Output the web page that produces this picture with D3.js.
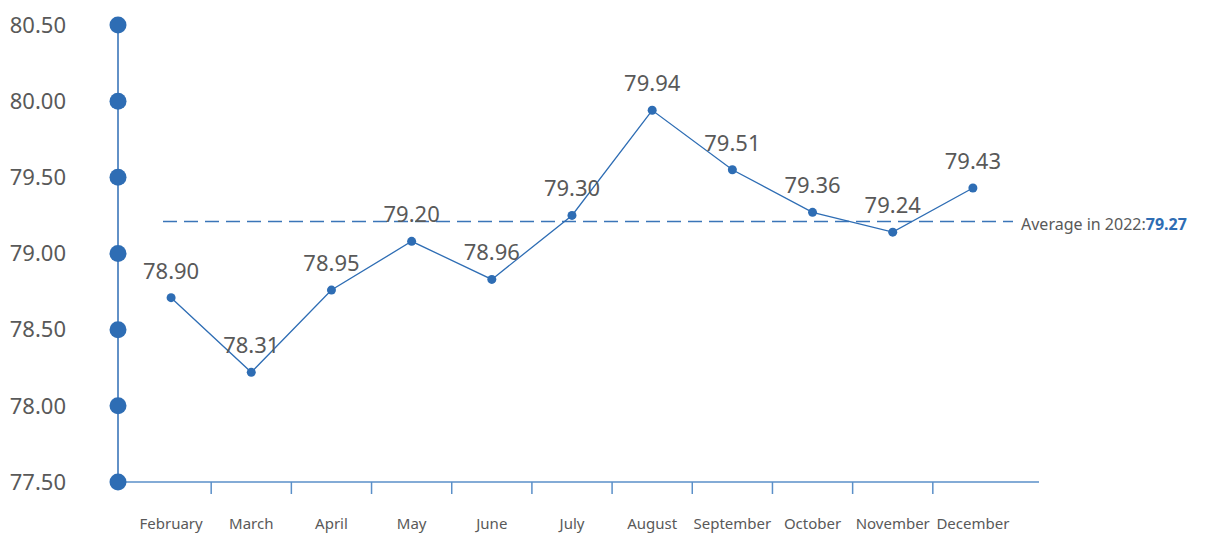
<!DOCTYPE html>
<html>
<head>
<meta charset="utf-8">
<script src="https://cdn.jsdelivr.net/npm/d3@7"></script>
<style>
  body { margin: 0; background: #fff; }
  text { font-family: "Noto Sans", sans-serif; }
</style>
</head>
<body>
<div id="chart"></div>
<script>
// months shown on the x axis
var months = ["February", "March", "April", "May", "June", "July",
              "August", "September", "October", "November", "December"];
var plotted = [78.71, 78.22, 78.76, 79.08, 78.83, 79.25, 79.94, 79.55, 79.27, 79.14, 79.43];
// the numbers printed above each point
var shown = ["78.90", "78.31", "78.95", "79.20", "78.96", "79.30",
             "79.94", "79.51", "79.36", "79.24", "79.43"];
var yTicks = [77.5, 78, 78.5, 79, 79.5, 80, 80.5];
var avgPlotted = 79.21;
var avgLabel = "79.27";

var w = 1207, h = 536;
var blue = "#2e6db4";
var grey = "#595959";

var svg = d3.select("#chart").append("svg")
    .attr("width", w)
    .attr("height", h);

var y = d3.scaleLinear().domain([77.5, 80.5]).range([482, 25]);

// bands for the ticks and labels, points for the line
var xBand = d3.scaleBand().domain(months).range([131, 1013]);
var xPoint = function(m) { return xBand(m) + xBand.bandwidth() / 2; };

// x axis line and ticks between months
svg.append("line")
    .attr("x1", 118).attr("x2", 1039)
    .attr("y1", y(77.5)).attr("y2", y(77.5))
    .attr("stroke", "#5a8fc8").attr("stroke-width", 1.5);

svg.selectAll(".xtick")
    .data(months.slice(1))
    .enter().append("line")
    .attr("x1", function(d) { return xBand(d); })
    .attr("x2", function(d) { return xBand(d); })
    .attr("y1", y(77.5)).attr("y2", y(77.5) + 12)
    .attr("stroke", "#5a8fc8").attr("stroke-width", 1.5);

svg.selectAll(".xlabel")
    .data(months)
    .enter().append("text")
    .attr("x", xPoint)
    .attr("y", 529)
    .attr("text-anchor", "middle")
    .attr("font-size", 15)
    .attr("fill", grey)
    .text(function(d) { return d; });

// y axis with big dots
svg.append("line")
    .attr("x1", 118).attr("x2", 118)
    .attr("y1", y(80.5)).attr("y2", y(77.5))
    .attr("stroke", blue).attr("stroke-width", 1.5);

svg.selectAll(".ydot")
    .data(yTicks)
    .enter().append("circle")
    .attr("cx", 118)
    .attr("cy", function(d) { return y(d); })
    .attr("r", 8.5)
    .attr("fill", blue);

svg.selectAll(".ylabel")
    .data(yTicks)
    .enter().append("text")
    .attr("x", 66)
    .attr("y", function(d) { return y(d); })
    .attr("dy", "0.35em")
    .attr("text-anchor", "end")
    .attr("font-size", 22)
    .attr("fill", grey)
    .text(function(d) { return d3.format(".2f")(d); });

// average dashed line
svg.append("line")
    .attr("x1", 163).attr("x2", 1013)
    .attr("y1", y(avgPlotted)).attr("y2", y(avgPlotted))
    .attr("stroke", "#3a75b8").attr("stroke-width", 1.4)
    .attr("stroke-dasharray", "14,7");

var avgText = svg.append("text")
    .attr("x", 1021)
    .attr("y", y(avgPlotted))
    .attr("dy", "0.55em")
    .attr("font-size", 16)
    .attr("fill", grey);
avgText.append("tspan").text("Average in 2022:");
avgText.append("tspan").attr("font-weight", "bold").attr("fill", blue).text(avgLabel);

// the line
var line = d3.line()
    .x(function(d, i) { return xPoint(months[i]); })
    .y(function(d) { return y(d); });

svg.append("path")
    .datum(plotted)
    .attr("d", line)
    .attr("fill", "none")
    .attr("stroke", blue)
    .attr("stroke-width", 1.3);

svg.selectAll(".pt")
    .data(plotted)
    .enter().append("circle")
    .attr("cx", function(d, i) { return xPoint(months[i]); })
    .attr("cy", function(d) { return y(d); })
    .attr("r", 4.5)
    .attr("fill", blue);

svg.selectAll(".vlabel")
    .data(plotted)
    .enter().append("text")
    .attr("x", function(d, i) { return xPoint(months[i]); })
    .attr("y", function(d) { return y(d) - 19; })
    .attr("text-anchor", "middle")
    .attr("font-size", 22)
    .attr("fill", grey)
    .text(function(d, i) { return shown[i]; });
</script>
</body>
</html>
